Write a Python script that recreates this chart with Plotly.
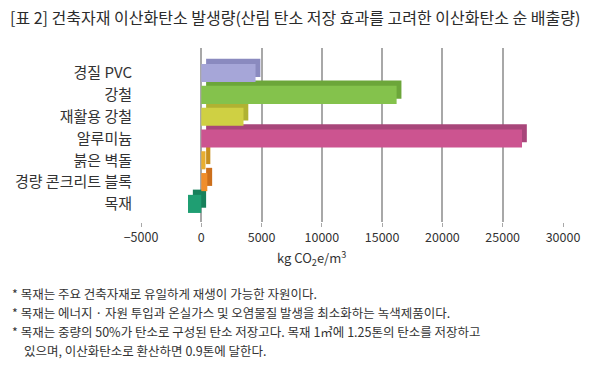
import plotly.graph_objects as go

# ---- data ----
categories = ["경질 PVC", "강철", "재활용 강철", "알루미늄", "붉은 벽돌", "경량 콘크리트 블록", "목재"]
values = [4500, 16200, 3500, 26600, 350, 500, -1100]
front_colors = ["#a6a6d8", "#84c24c", "#cfd043", "#cc5490", "#e8ae30", "#f08e2c", "#1f9e72"]
side_colors = ["#8a8abf", "#6ca63a", "#b0b232", "#a8467a", "#c88f1e", "#cc6f1c", "#17805b"]
x_ticks = [-5000, 0, 5000, 10000, 15000, 20000, 25000, 30000]

title = "[표 2] 건축자재 이산화탄소 발생량(산림 탄소 저장 효과를 고려한 이산화탄소 순 배출량)"
notes = [
    "* 목재는 주요 건축자재로 유일하게 재생이 가능한 자원이다.",
    "* 목재는 에너지 · 자원 투입과 온실가스 및 오염물질 발생을 최소화하는 녹색제품이다.",
    "* 목재는 중량의 50%가 탄소로 구성된 탄소 저장고다. 목재 1㎥에 1.25톤의 탄소를 저장하고",
    "있으며, 이산화탄소로 환산하면 0.9톤에 달한다.",
]

FONT = "Noto Sans CJK KR, Noto Sans, sans-serif"
W, H = 600, 365
L, R, T, B = 141, 563, 48, 222

def px(x):
    return (x - L) / (R - L)

def py(y):
    return (B - y) / (B - T)

pos = list(range(len(categories)))
bar_w = 0.83
depth_y = 0.24
depth_x = 400

fig = go.Figure()
# depth (3D side) bars behind
fig.add_trace(go.Bar(
    y=pos, x=values, base=[depth_x] * len(values), orientation="h",
    width=bar_w, offset=-bar_w / 2 - depth_y,
    marker=dict(color=side_colors, line=dict(width=0)),
    hoverinfo="skip", showlegend=False,
))
# front bars
fig.add_trace(go.Bar(
    y=pos, x=values, orientation="h",
    width=bar_w, offset=-bar_w / 2,
    marker=dict(color=front_colors, line=dict(width=0)),
    showlegend=False,
))

fig.update_layout(
    width=W, height=H,
    margin=dict(l=L, r=W - R, t=T, b=H - B, autoexpand=False),
    paper_bgcolor="white", plot_bgcolor="white",
    font=dict(family=FONT, color="#333333"),
    barmode="overlay",
    xaxis=dict(
        range=[-5000, 30000], tickvals=x_ticks,
        ticktext=[("−5000" if v < 0 else str(v)) for v in x_ticks],
        showgrid=True, gridcolor="#a8a8a8", gridwidth=1.5,
        zeroline=False, showline=False, automargin=False,
        ticks="outside", ticklen=4, tickcolor="#a8a8a8", tickwidth=1,
        tickfont=dict(size=12.5, color="#333333", family=FONT),
    ),
    yaxis=dict(
        range=[6.83, -1.15], tickvals=pos, ticktext=categories,
        showgrid=False, zeroline=False, showline=False, ticks="",
        automargin=False, ticklabelstandoff=8,
        tickfont=dict(size=15, color="#333333", family=FONT),
    ),
)

annotations = [
    dict(text=title, x=px(8), y=py(17), xanchor="left", yanchor="middle",
         font=dict(size=16, color="#2b2b2b", family=FONT)),
    dict(text="kg CO<sub>2</sub>e/m<sup>3</sup>", x=px(311), y=py(258),
         xanchor="center", yanchor="middle",
         font=dict(size=13, color="#333333", family=FONT)),
]
note_x = [10, 10, 10, 22]
note_y = [293, 312, 331, 350]
for t, xx, yy in zip(notes, note_x, note_y):
    annotations.append(dict(text=t, x=px(xx), y=py(yy), xanchor="left", yanchor="middle",
                            font=dict(size=12.5, color="#333333", family=FONT)))
for a in annotations:
    a.update(xref="paper", yref="paper", showarrow=False)
fig.update_layout(annotations=annotations)

fig.write_html(
    "out.html",
    config={"displayModeBar": False},
    post_script="document.body.style.margin='0';document.body.style.overflow='hidden';",
)
